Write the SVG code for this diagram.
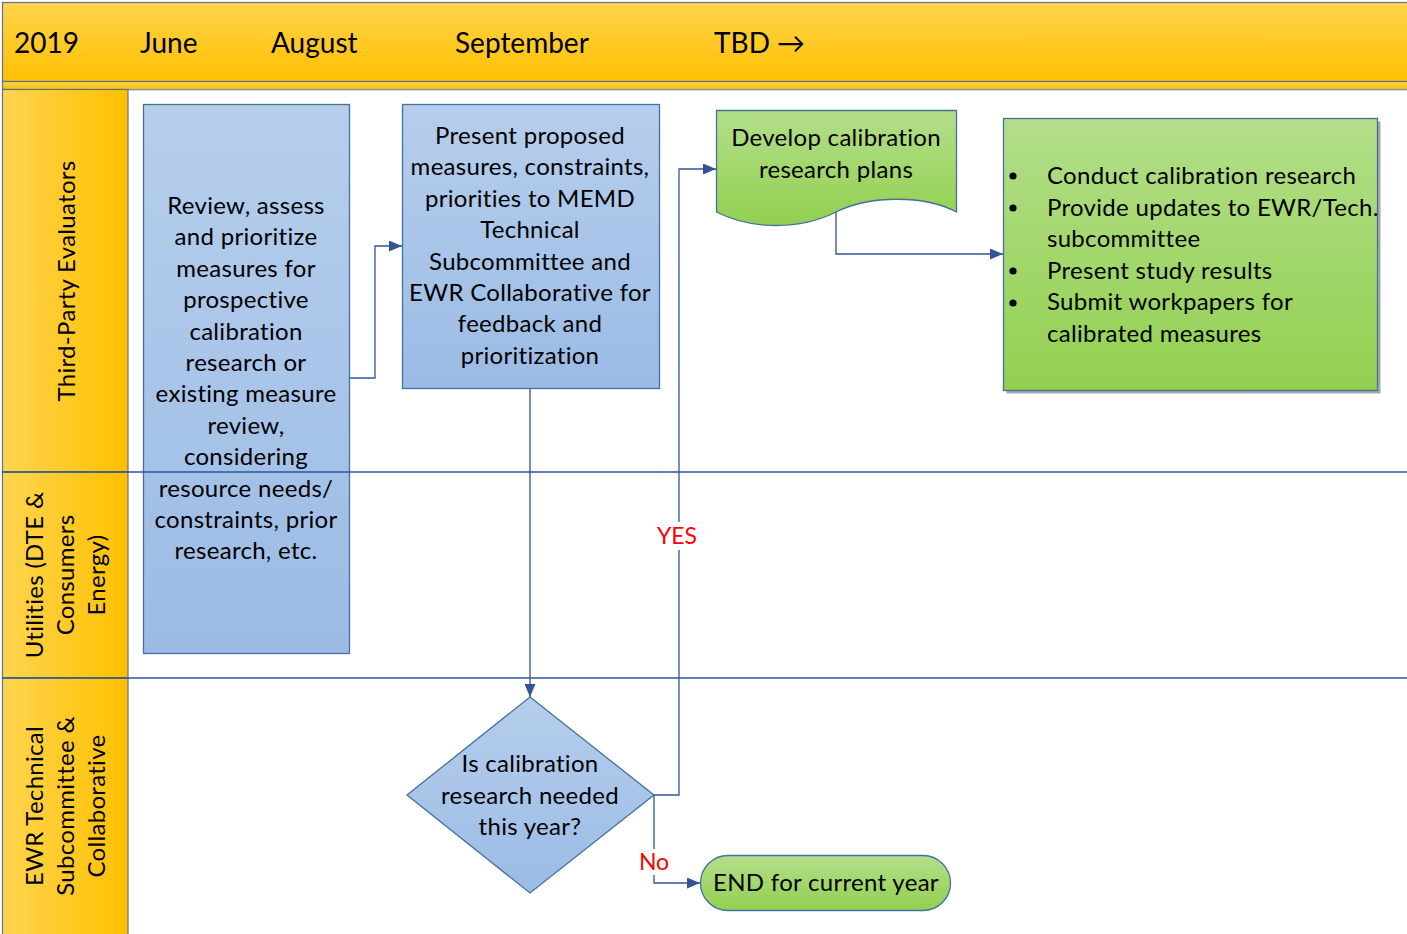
<svg xmlns="http://www.w3.org/2000/svg" width="1407" height="934" viewBox="0 0 1407 934">
<style>
  .t{font-family:Lato,"Open Sans","Liberation Sans",sans-serif;font-size:24px;letter-spacing:0.3px;fill:#000}
  .c{text-anchor:middle}
  .h{font-size:28px;letter-spacing:0}
  .lab{font-size:23px;letter-spacing:0;fill:#FF0000}
  .nodeB{fill:url(#gBlue);stroke:#41719C;stroke-width:1.3}
  .nodeG{fill:url(#gGreen);stroke:#41719C;stroke-width:1.3}
  .con{fill:none;stroke:#2F5597;stroke-width:1.3}
  .sep{stroke:#2F5597;stroke-width:1.5}
</style>
<defs>
  <linearGradient id="gHead" x1="0" y1="0" x2="0" y2="1">
    <stop offset="0" stop-color="#FFD44D"/><stop offset="1" stop-color="#FFC000"/>
  </linearGradient>
  <linearGradient id="gLane" x1="0" y1="0" x2="1" y2="0">
    <stop offset="0" stop-color="#FFD54F"/><stop offset="1" stop-color="#FFC000"/>
  </linearGradient>
  <linearGradient id="gBlue" x1="0" y1="0" x2="0" y2="1">
    <stop offset="0" stop-color="#B6CEEC"/><stop offset="1" stop-color="#9BBBE5"/>
  </linearGradient>
  <linearGradient id="gGreen" x1="0" y1="0" x2="0" y2="1">
    <stop offset="0" stop-color="#B3DE8A"/><stop offset="1" stop-color="#92D050"/>
  </linearGradient>
  <marker id="arr" viewBox="0 0 13 11" refX="13" refY="5.5" markerWidth="13" markerHeight="11" markerUnits="userSpaceOnUse" orient="auto">
    <path d="M0,0 L13,5.5 L0,11 Z" fill="#2F5597"/>
  </marker>
</defs>
<rect width="1407" height="934" fill="#FFFFFF"/>
<g id="header">
  <rect x="2.5" y="2.5" width="1410" height="79" fill="url(#gHead)" stroke="#5B7392" stroke-width="1.2"/>
  <rect x="2.5" y="81.5" width="1410" height="8" fill="url(#gHead)" stroke="#5B7392" stroke-width="1.2"/>
  <text class="t h" x="14" y="53">2019</text>
  <text class="t h" x="140" y="53">June</text>
  <text class="t h" x="271" y="53">August</text>
  <text class="t h" x="455" y="53">September</text>
  <text class="t h" x="714" y="53">TBD →</text>
</g>
<g id="lanes">
  <line x1="128" y1="90" x2="1407" y2="90" stroke="#A9BCD3" stroke-width="1.2"/>
  <rect x="2.5" y="89.5" width="125.5" height="382.5" fill="url(#gLane)" stroke="#5B7392" stroke-width="1.2"/>
  <rect x="2.5" y="472" width="125.5" height="206" fill="url(#gLane)" stroke="#5B7392" stroke-width="1.2"/>
  <rect x="2.5" y="678" width="125.5" height="260" fill="url(#gLane)" stroke="#5B7392" stroke-width="1.2"/>
  <text class="t c" transform="translate(75,281) rotate(-90)">Third-Party Evaluators</text>
  <text class="t c" transform="translate(43,575) rotate(-90)">Utilities (DTE &amp;</text>
  <text class="t c" transform="translate(74,575) rotate(-90)">Consumers</text>
  <text class="t c" transform="translate(105,575) rotate(-90)">Energy)</text>
  <text class="t c" transform="translate(43,806) rotate(-90)">EWR Technical</text>
  <text class="t c" transform="translate(74,806) rotate(-90)">Subcommittee &amp;</text>
  <text class="t c" transform="translate(105,806) rotate(-90)">Collaborative</text>
</g>
<g id="connectors">
  <polyline class="con" points="349,378 375,378 375,246 402,246" marker-end="url(#arr)"/>
  <polyline class="con" points="530,388 530,697" marker-end="url(#arr)"/>
  <polyline class="con" points="654,795 679,795 679,169 716,169" marker-end="url(#arr)"/>
  <polyline class="con" points="654,795 654,883 700,883" marker-end="url(#arr)"/>
  <polyline class="con" points="836,212 836,254 1003,254" marker-end="url(#arr)"/>
</g>
<g id="n1">
  <rect class="nodeB" x="143.5" y="104.5" width="206" height="549"/>
  <text class="t c" x="246" y="214"><tspan x="246">Review, assess</tspan><tspan x="246" dy="31.4">and prioritize</tspan><tspan x="246" dy="31.4">measures for</tspan><tspan x="246" dy="31.4">prospective</tspan><tspan x="246" dy="31.4">calibration</tspan><tspan x="246" dy="31.4">research or</tspan><tspan x="246" dy="31.4">existing measure</tspan><tspan x="246" dy="31.4">review,</tspan><tspan x="246" dy="31.4">considering</tspan><tspan x="246" dy="31.4">resource needs/</tspan><tspan x="246" dy="31.4">constraints, prior</tspan><tspan x="246" dy="31.4">research, etc.</tspan></text>
</g>
<g id="separators">
  <line class="sep" x1="2" y1="472" x2="1407" y2="472"/>
  <line class="sep" x1="2" y1="678" x2="1407" y2="678"/>
</g>
<g id="n2">
  <rect class="nodeB" x="402.5" y="104.5" width="257" height="284"/>
  <text class="t c" x="530" y="144"><tspan x="530">Present proposed</tspan><tspan x="530" dy="31.4">measures, constraints,</tspan><tspan x="530" dy="31.4">priorities to MEMD</tspan><tspan x="530" dy="31.4">Technical</tspan><tspan x="530" dy="31.4">Subcommittee and</tspan><tspan x="530" dy="31.4">EWR Collaborative for</tspan><tspan x="530" dy="31.4">feedback and</tspan><tspan x="530" dy="31.4">prioritization</tspan></text>
</g>
<g id="n3">
  <path class="nodeG" d="M716.5,110.5 H956.5 V212 C925,195 870,195 836,212 C800,230 752,230 716.5,212 Z"/>
  <text class="t c" x="836" y="146"><tspan x="836">Develop calibration</tspan><tspan x="836" dy="32">research plans</tspan></text>
</g>
<g id="n4">
  <rect x="1006.5" y="121.5" width="374" height="272" fill="#A6A6A6"/>
  <rect class="nodeG" x="1003.5" y="118.5" width="374" height="272"/>
  <circle cx="1013" cy="176" r="3.6"/>
  <circle cx="1013" cy="208" r="3.6"/>
  <circle cx="1013" cy="271" r="3.6"/>
  <circle cx="1013" cy="303" r="3.6"/>
  <text class="t" x="1047" y="184"><tspan x="1047">Conduct calibration research</tspan><tspan x="1047" dy="31.6">Provide updates to EWR/Tech.</tspan><tspan x="1047" dy="31.6">subcommittee</tspan><tspan x="1047" dy="31.6">Present study results</tspan><tspan x="1047" dy="31.6">Submit workpapers for</tspan><tspan x="1047" dy="31.6">calibrated measures</tspan></text>
</g>
<g id="n5">
  <path class="nodeB" d="M530,697 L654,795 L530,893 L407,795 Z"/>
  <text class="t c" x="530" y="772"><tspan x="530">Is calibration</tspan><tspan x="530" dy="31.6">research needed</tspan><tspan x="530" dy="31.6">this year?</tspan></text>
</g>
<g id="n6">
  <rect class="nodeG" x="700.5" y="855.5" width="250" height="55" rx="27.5"/>
  <text class="t c" x="826" y="891">END for current year</text>
</g>
<g id="labels">
  <rect x="655" y="522" width="44" height="28" fill="#FFFFFF"/>
  <text class="t lab c" x="677" y="544">YES</text>
  <rect x="637" y="849" width="34" height="26" fill="#FFFFFF"/>
  <text class="t lab c" x="654" y="870">No</text>
</g>
</svg>
